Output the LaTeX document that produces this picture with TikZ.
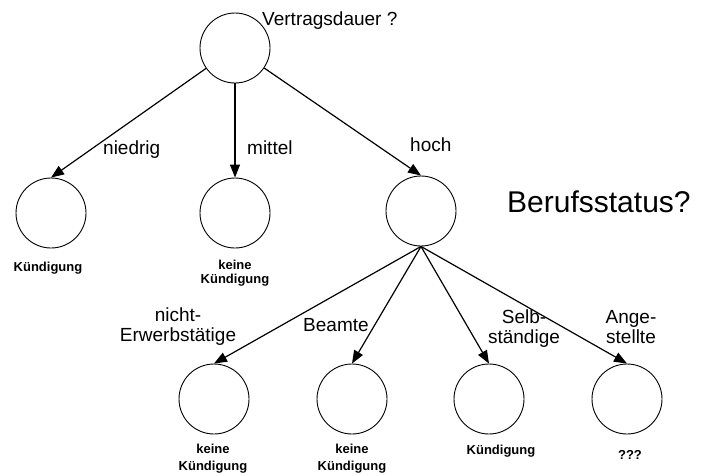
\documentclass[tikz,border=0pt]{standalone}
\usepackage{fontspec}
\setmainfont{Liberation Sans}
\usetikzlibrary{arrows.meta}
\begin{document}
\begin{tikzpicture}[x=1pt,y=-1pt,
  state/.style={circle,draw,line width=0.9pt,minimum size=70pt,inner sep=0pt},
  edge/.style={line width=1.2pt,-{Triangle[length=13pt,width=10pt]}},
  lbl/.style={inner sep=0pt,font=\fontsize{19}{20}\selectfont,align=center},
  big/.style={inner sep=0pt,font=\fontsize{30}{32}\selectfont},
  result/.style={inner sep=0pt,font=\fontsize{13}{14}\selectfont\bfseries,align=center}]
\useasboundingbox (0,0) rectangle (704,475);
% tree nodes
\node[state] (top) at (235,48) {};
\node[state] (low) at (51,213) {};
\node[state] (mid) at (235,213) {};
\node[state] (high) at (421,211) {};
\node[state] (ne) at (214,399) {};
\node[state] (be) at (352,399) {};
\node[state] (se) at (489,399) {};
\node[state] (an) at (627,399) {};
% connectors
\draw[edge] (top) -- (low.north);
\draw[edge] (top.south) -- (mid.north);
\draw[edge] (top) -- (high.north);
\draw[edge] (high.south) -- (ne.north);
\draw[edge] (high.south) -- (be.north);
\draw[edge] (high.south) -- (se.north);
\draw[edge] (high.south) -- (an.north);
% questions
\node[lbl,anchor=base west] (q1) at (262,25) {Vertragsdauer ?};
\node[big,anchor=base west] (q2) at (507,212) {Berufsstatus?};
% edge labels (multi-line labels are placed by the baseline of their last line)
\node[lbl,anchor=base west] (l1) at (103,154) {niedrig};
\node[lbl,anchor=base west] (l2) at (247,154) {mittel};
\node[lbl,anchor=base west] (l3) at (410,151) {hoch};
\node[lbl,anchor=base] (l4) at (178,341) {nicht-\\Erwerbstätige};
\node[lbl,anchor=base west] (l5) at (303,331) {Beamte};
\node[lbl,anchor=base] (l6) at (524,343) {Selb-\\ständige};
\node[lbl,anchor=base] (l7) at (631,343) {Ange-\\stellte};
% outcomes
\node[result,anchor=base] (r1) at (48,271) {Kündigung};
\node[result,anchor=base] (r2) at (235,283) {keine\\Kündigung};
\node[result,anchor=base,font=\fontsize{13}{17}\selectfont\bfseries] (r3) at (213,470) {keine\\Kündigung};
\node[result,anchor=base,font=\fontsize{13}{17}\selectfont\bfseries] (r4) at (352,470) {keine\\Kündigung};
\node[result,anchor=base] (r5) at (501,454) {Kündigung};
\node[result,anchor=base] (r6) at (630,459) {???};
\end{tikzpicture}
\end{document}
